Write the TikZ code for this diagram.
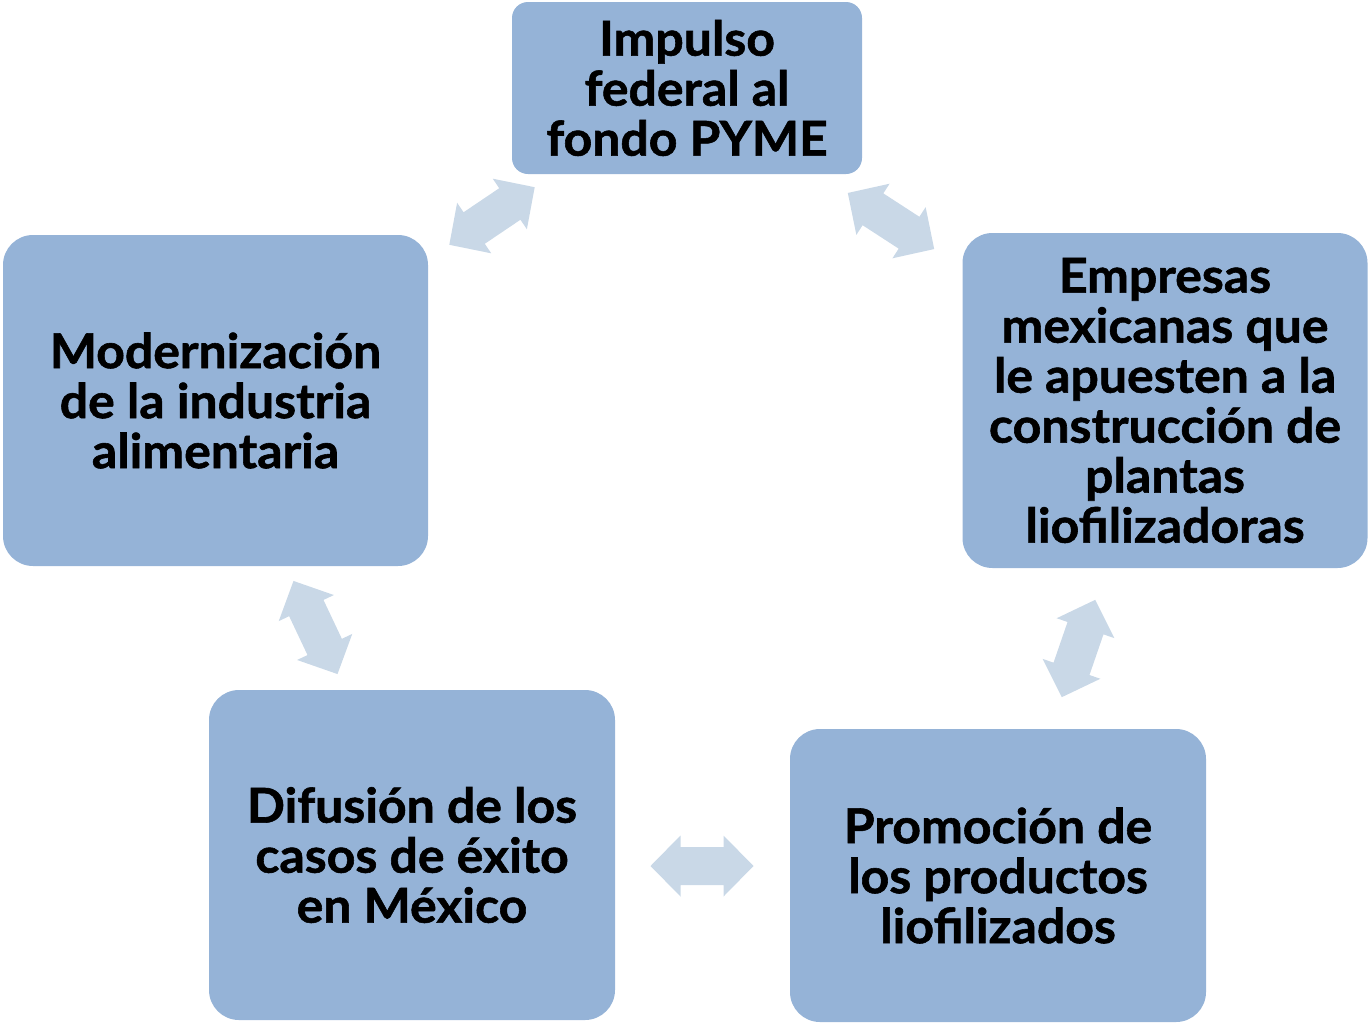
\documentclass[tikz,border=0pt]{standalone}
\usepackage{fontspec}
\setmainfont{Lato}[FakeStretch=1.04, BoldFeatures={FakeBold=1.2}]
\definecolor{boxfill}{HTML}{95B3D7}
\definecolor{arrfill}{HTML}{C9D8E7}
\tikzset{
  box/.style={fill=boxfill, draw=none, align=center, inner sep=0pt,
    font=\fontsize{48}{50}\selectfont\bfseries, text=black},
  dblarr/.style={fill=arrfill, draw=none},
}
\newcommand{\dblarrowshape}{(-51.5,0) -- (-21.5,30.5) -- (-21.5,19) -- (21.5,19) -- (21.5,30.5) -- (51.5,0) -- (21.5,-30.5) -- (21.5,-19) -- (-21.5,-19) -- (-21.5,-30.5) -- cycle}
\begin{document}
\begin{tikzpicture}[x=1pt,y=-1pt]
\useasboundingbox (0,0) rectangle (1368,1023);
% boxes
\node[box, minimum width=350pt, minimum height=172pt, rounded corners=16pt] (impulso) at (687,88) {Impulso\\federal al\\fondo PYME};
\node[box, minimum width=405pt, minimum height=335pt, rounded corners=30pt] (empresas) at (1165,400.5) {Empresas\\mexicanas que\\le apuesten a la\\construcción de\\plantas\\liofilizadoras};
\node[box, minimum width=416pt, minimum height=293pt, rounded corners=30pt] (promocion) at (998,875.5) {Promoción de\\los productos\\liofilizados};
\node[box, minimum width=406pt, minimum height=330pt, rounded corners=30pt] (difusion) at (412,855) {Difusión de los\\casos de éxito\\en México};
\node[box, minimum width=425pt, minimum height=331pt, rounded corners=30pt] (modern) at (215.5,400.5) {Modernización\\de la industria\\alimentaria};
% double arrows
\coordinate (a1) at (492,216);
\coordinate (a2) at (891,221);
\coordinate (a3) at (1078.5,648.5);
\coordinate (a4) at (702,866);
\coordinate (a5) at (315.5,627.5);
\fill[dblarr, shift={(a1)}, rotate=34] \dblarrowshape;
\fill[dblarr, shift={(a2)}, rotate=-33] \dblarrowshape;
\fill[dblarr, shift={(a3)}, rotate=71] \dblarrowshape;
\fill[dblarr, shift={(a4)}, rotate=0] \dblarrowshape;
\fill[dblarr, shift={(a5)}, rotate=-64.7] \dblarrowshape;
\end{tikzpicture}
\end{document}
